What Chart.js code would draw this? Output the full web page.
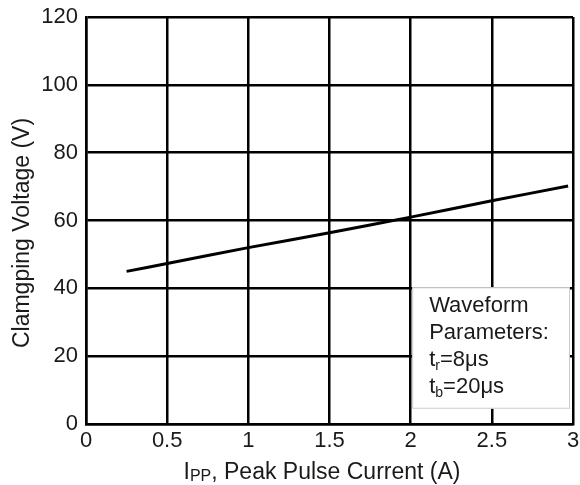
<!DOCTYPE html>
<html>
<head>
<meta charset="utf-8">
<script src="https://cdn.jsdelivr.net/npm/chart.js@4.4.1/dist/chart.umd.min.js"></script>
<style>
    html, body { margin: 0; padding: 0; background: #fff; }
    #wrap { width: 580px; height: 485px; }
</style>
</head>
<body>
<div id="wrap"><canvas id="clampChart"></canvas></div>
<script>
// Peak pulse current (A) vs clamping voltage (V)
const currentA = [0.25, 0.5, 1, 1.5, 2, 2.5, 2.97];
const voltageV = [45, 47.3, 52, 56.4, 61, 65.8, 70.2];

const xTicks = [0, 0.5, 1, 1.5, 2, 2.5, 3];
const yTicks = [0, 20, 40, 60, 80, 100, 120];

// note box text: [main, subscript, rest]
const noteLines = [
    ['Waveform', '', ''],
    ['Parameters:', '', ''],
    ['t', 'r', '=8μs'],
    ['t', 'b', '=20μs']
];

const font = '"Liberation Sans", Arial, sans-serif';
const ink = '#1a1a1a';

// draws the axis titles (with subscript) and the waveform note box
const extrasPlugin = {
    id: 'extras',
    afterDraw(chart) {
        const ctx = chart.ctx;
        const xs = chart.scales.x;
        const ys = chart.scales.y;
        ctx.save();

        // note box
        const bx = xs.getPixelForValue(2) + 1.5;
        const by = ys.getPixelForValue(40) - 1;
        const bw = xs.getPixelForValue(3) - 3 - bx;
        const bh = ys.getPixelForValue(4.5) - by;
        ctx.fillStyle = '#fff';
        ctx.fillRect(bx, by, bw, bh);
        ctx.strokeStyle = '#ccc';
        ctx.lineWidth = 1;
        ctx.strokeRect(bx + 0.5, by + 0.5, bw - 1, bh - 1);

        ctx.fillStyle = ink;
        ctx.textBaseline = 'alphabetic';
        ctx.textAlign = 'left';
        noteLines.forEach(function(parts, i) {
            let x = bx + 17;
            const y = by + 25 + i * 27;
            ctx.font = '22px ' + font;
            ctx.fillText(parts[0], x, y);
            x += ctx.measureText(parts[0]).width;
            if (parts[1]) {
                ctx.font = '14px ' + font;
                ctx.fillText(parts[1], x, y + 4);
                x += ctx.measureText(parts[1]).width;
            }
            ctx.font = '22px ' + font;
            ctx.fillText(parts[2], x, y);
        });

        // x axis title: I_PP, Peak Pulse Current (A)
        const main = ', Peak Pulse Current (A)';
        ctx.font = '23px ' + font;
        const wI = ctx.measureText('I').width;
        const wMain = ctx.measureText(main).width;
        ctx.font = '16px ' + font;
        const wSub = ctx.measureText('PP').width;
        let tx = 322 - (wI + wSub + wMain) / 2;
        const ty = 479;
        ctx.font = '23px ' + font;
        ctx.fillText('I', tx, ty);
        tx += wI;
        ctx.font = '16px ' + font;
        ctx.fillText('PP', tx, ty + 2);
        tx += wSub;
        ctx.font = '23px ' + font;
        ctx.fillText(main, tx, ty);

        // y axis title
        ctx.translate(29, 233);
        ctx.rotate(-Math.PI / 2);
        ctx.textAlign = 'center';
        ctx.font = '23px ' + font;
        ctx.fillText('Clamgping Voltage (V)', 0, 0);
        ctx.restore();
    }
};

const ctx = document.getElementById('clampChart').getContext('2d');

new Chart(ctx, {
    type: 'scatter',
    data: {
        datasets: [{
            data: currentA.map((x, i) => ({ x: x, y: voltageV[i] })),
            showLine: true,
            borderColor: '#000',
            borderWidth: 3,
            pointRadius: 0,
            tension: 0.2
        }]
    },
    options: {
        responsive: true,
        maintainAspectRatio: false,
        animation: false,
        layout: { padding: { top: 17, right: 7, left: 0, bottom: 0 } },
        plugins: {
            legend: { display: false },
            tooltip: { enabled: false }
        },
        scales: {
            x: {
                type: 'linear',
                min: 0,
                max: 3,
                afterBuildTicks: function(scale) {
                    scale.ticks = xTicks.map(v => ({ value: v }));
                },
                afterFit: function(scale) {
                    scale.height = 61;
                    scale.paddingLeft = 0;
                    scale.paddingRight = 0;
                },
                grid: { color: '#000', lineWidth: 2.5, drawTicks: false },
                border: { color: '#000', width: 2.5 },
                ticks: {
                    color: ink,
                    padding: 4,
                    maxRotation: 0,
                    font: { family: font, size: 22 },
                    callback: function(value) { return String(value); }
                }
            },
            y: {
                min: 0,
                max: 120,
                afterBuildTicks: function(scale) {
                    scale.ticks = yTicks.map(v => ({ value: v }));
                },
                afterFit: function(scale) {
                    scale.width = 86;
                    scale.paddingTop = 0;
                    scale.paddingBottom = 0;
                },
                grid: { color: '#000', lineWidth: 2.5, drawTicks: false },
                border: { color: '#000', width: 2.5 },
                ticks: {
                    color: ink,
                    padding: 8,
                    font: { family: font, size: 22 },
                    callback: function(value) { return String(value); }
                }
            }
        }
    },
    plugins: [extrasPlugin]
});
</script>
</body>
</html>
